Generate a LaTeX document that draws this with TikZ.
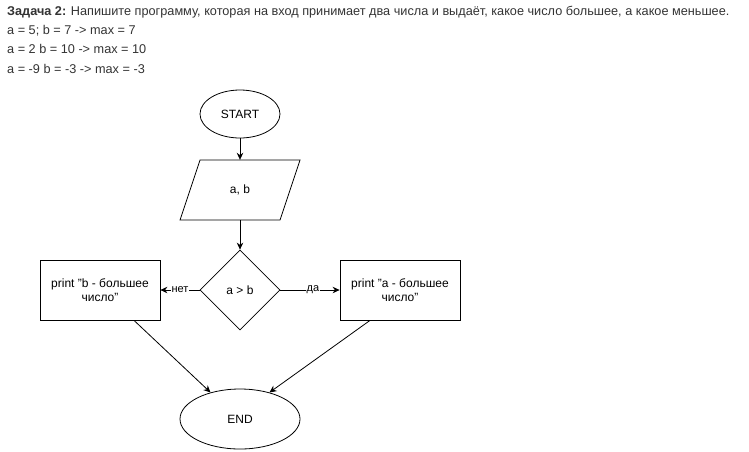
\documentclass[tikz,border=0pt]{standalone}
\usepackage{fontspec}
\setmainfont{Liberation Sans}
\usetikzlibrary{shapes.geometric,arrows.meta,calc}
\definecolor{hdr}{HTML}{333333}
\begin{document}
\begin{tikzpicture}[x=1pt,y=-1pt,
  every node/.style={font=\fontsize{12}{14}\selectfont},
  term/.style={ellipse,draw,line width=0.8pt,inner sep=0pt},
  box/.style={draw,line width=0.8pt,minimum width=120pt,minimum height=60pt,align=center,inner sep=0pt},
  dec/.style={diamond,draw,line width=0.8pt,minimum width=80pt,minimum height=80pt,inner sep=0pt,aspect=1},
  arr/.style={line width=0.8pt,-{Stealth[length=7pt,width=6.5pt]}},
  lbl/.style={fill=white,inner sep=1pt,font=\fontsize{11}{12}\selectfont},
  hl/.style={anchor=base west,inner sep=0pt,text=hdr,font=\fontsize{12.7}{14}\selectfont}]
\useasboundingbox (0,0) rectangle (749,451);
\node[hl] (h1) at (7,15) {\textbf{Задача 2:} Напишите программу, которая на вход принимает два числа и выдаёт, какое число большее, а какое меньшее.};
\node[hl] (h2) at (7,34) {a = 5; b = 7 -> max = 7};
\node[hl] (h3) at (7,53) {a = 2 b = 10 -> max = 10};
\node[hl] (h4) at (7,73) {a = -9 b = -3 -> max = -3};

\node[term,minimum width=80pt,minimum height=48pt] (st) at (240,114) {START};
\draw[line width=0.8pt] (200,160)--(300,160)--(280,220)--(180,220)--cycle;
\node[minimum width=100pt,minimum height=60pt,inner sep=0pt] (inp) at (240,190) {a, b};
\node[dec] (cond) at (240,290) {a > b};
\node[box] (lb) at (100,290) {print "b - большее\\число"};
\node[box] (rb) at (400,290) {print "a - большее\\число"};
\node[term,minimum width=120pt,minimum height=60pt] (en) at (240,419) {END};

\draw[arr] (st) -- (inp.north);
\draw[arr] (inp.south) -- (cond.north);
\draw[arr] (cond.west) -- node[lbl] {нет} (lb.east);
\draw[arr] (cond.east) -- node[lbl,pos=0.55] {да} (rb.west);
\coordinate (lbo) at ($(lb.south)+(34,0)$);
\coordinate (rbo) at ($(rb.south)+(-30,0)$);
\draw[arr] (lbo) -- (en.138);
\draw[arr] (rbo) -- (en.42);
\end{tikzpicture}
\end{document}
